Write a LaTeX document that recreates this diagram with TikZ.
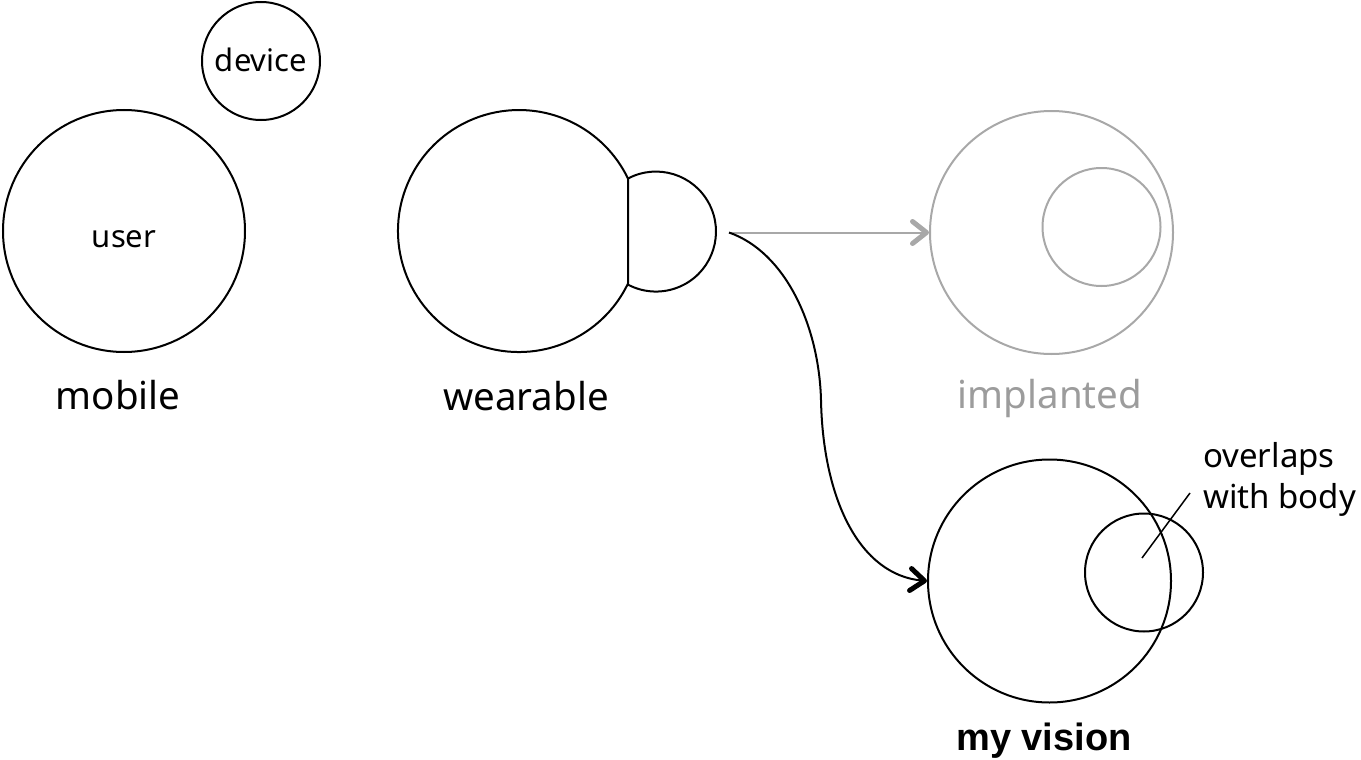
\documentclass[tikz,border=0pt]{standalone}
\usepackage{fontspec}
\setmainfont{Noto Sans}
\newfontfamily\visionfont{Liberation Sans}
\usetikzlibrary{arrows.meta}
\definecolor{lgrey}{HTML}{A8A8A8}
\definecolor{tgrey}{HTML}{9C9C9C}
\tikzset{
  ring/.style={circle, draw, line width=2pt, inner sep=0pt, minimum size=#1},
  lab/.style={anchor=base, inner sep=0pt, font=\fontsize{38.5}{46}\selectfont},
  small/.style={anchor=base, inner sep=0pt, font=\fontsize{31}{37}\selectfont},
  note/.style={anchor=base west, inner sep=0pt, font=\fontsize{33}{40}\selectfont},
  edge/.style={line width=2pt},
  barb/.style={-{Straight Barb[length=14pt,width=22pt,line width=5pt,round]}},
}
\begin{document}
\begin{tikzpicture}[x=1pt,y=-1pt]
\useasboundingbox (0,0) rectangle (1361,760);
% mobile
\node[ring=242pt] (user) at (124,231) {};
\node[small] at (124,247) {user};
\node[ring=118pt] (device) at (261,61) {};
\node[small] at (261,71) {device};
\node[lab] (mobile) at (118,409) {mobile};
% wearable
\coordinate (wbig) at (519,231);
\coordinate (wsmall) at (656,231.5);
\draw[edge] (628,283.5) arc[start angle=25.7, end angle=334.3, radius=121] -- cycle;
\draw[edge] (628,178.5) arc[start angle=-117.8, end angle=117.8, radius=60];
\node[lab] (wearable) at (526,410) {wearable};
\coordinate (wout) at (729,232.5);
% implanted
\node[ring=243pt, draw=lgrey] (impl) at (1051.5,232.5) {};
\node[ring=118pt, draw=lgrey] (implin) at (1101.5,227) {};
\node[lab, text=tgrey] (implanted) at (1050,408) {implanted};
% my vision
\node[ring=243pt] (vision) at (1049.5,581) {};
\node[ring=118pt] (body) at (1144,572.5) {};
\node[lab, font=\visionfont\fontsize{38}{46}\selectfont\bfseries] (myvision) at (1044,750) {my vision};
\node[note] (ov1) at (1203,467) {overlaps};
\node[note] (ov2) at (1203,508) {with body};
\coordinate (lead1) at (1142,558);
\coordinate (lead2) at (1190,493);
\draw[line width=1.5pt] (lead1) -- (lead2);
% arrows
\draw[edge, lgrey, barb] (wout) -- (impl.west);
\draw[edge, barb] (wout) .. controls (785,252) and (819,325) .. (821,400)
  .. controls (823,500) and (860,575) .. (vision.west);
\end{tikzpicture}
\end{document}
